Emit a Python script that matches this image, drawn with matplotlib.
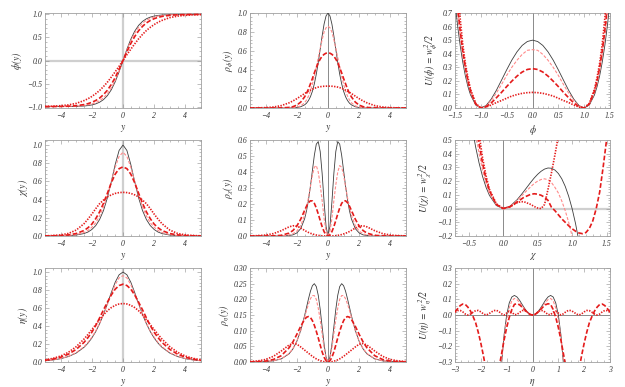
import matplotlib
matplotlib.use('Agg')
import matplotlib.pyplot as plt
from matplotlib.ticker import MultipleLocator, AutoMinorLocator, FuncFormatter

plt.rcParams['font.family'] = ['Liberation Serif', 'DejaVu Serif']
plt.rcParams['font.style'] = 'italic'
plt.rcParams['mathtext.fontset'] = 'stix'
plt.rcParams['lines.scale_dashes'] = False

# ---- sample grids ----
Y_COARSE = [-5, -4.5, -4, -3.5, -3, -2.5, -2.25, -2, -1.75, -1.5, -1.25, -1, -0.75, -0.5, -0.25, 0,
            0.25, 0.5, 0.75, 1, 1.25, 1.5, 1.75, 2, 2.25, 2.5, 3, 3.5, 4, 4.5, 5]
Y_FINE = [-5, -4.5, -4, -3.5, -3, -2.5, -2.25, -2, -1.75, -1.5, -1.375, -1.25, -1.125, -1, -0.875, -0.75,
          -0.625, -0.5, -0.375, -0.25, -0.125, 0, 0.125, 0.25, 0.375, 0.5, 0.625, 0.75, 0.875, 1, 1.125,
          1.25, 1.375, 1.5, 1.75, 2, 2.25, 2.5, 3, 3.5, 4, 4.5, 5]
X_PHI = [-1.5, -1.45, -1.4, -1.35, -1.3, -1.25, -1.2, -1.1, -1.0, -0.9, -0.8, -0.7, -0.6, -0.5, -0.4, -0.3,
         -0.2, -0.1, 0.0, 0.1, 0.2, 0.3, 0.4, 0.5, 0.6, 0.7, 0.8, 0.9, 1.0, 1.1, 1.2, 1.25, 1.3, 1.35, 1.4,
         1.45, 1.5]
X_CHI = [-0.7, -0.6, -0.5, -0.45, -0.4, -0.35, -0.3, -0.25, -0.2, -0.1, 0.0, 0.1, 0.2, 0.25, 0.3, 0.4, 0.45,
         0.5, 0.55, 0.6, 0.65, 0.7, 0.75, 0.8, 0.85, 0.9, 0.95, 1.0, 1.05, 1.1, 1.15, 1.2, 1.25, 1.3, 1.35,
         1.4, 1.45, 1.5, 1.55]
X_ETA = [-3.0, -2.9, -2.8, -2.7, -2.6, -2.5, -2.4, -2.3, -2.2, -2.1, -2.0, -1.9, -1.8, -1.7, -1.6, -1.5,
         -1.4, -1.3, -1.2, -1.1, -1.0, -0.9, -0.8, -0.7, -0.6, -0.5, -0.4, -0.3, -0.2, -0.1, 0.0,
         0.1, 0.2, 0.3, 0.4, 0.5, 0.6, 0.7, 0.8, 0.9, 1.0, 1.1, 1.2, 1.3, 1.4, 1.5,
         1.6, 1.7, 1.8, 1.9, 2.0, 2.1, 2.2, 2.3, 2.4, 2.5, 2.6, 2.7, 2.8, 2.9, 3.0]
X_ETA_IN = [-1.3, -1.2, -1.1, -1.0, -0.9, -0.8, -0.7, -0.6, -0.5, -0.4, -0.3, -0.2, -0.1, 0.0,
            0.1, 0.2, 0.3, 0.4, 0.5, 0.6, 0.7, 0.8, 0.9, 1.0, 1.1, 1.2, 1.3]

# ---- field profiles ----
phi_black = [-1.0, -1.0, -0.999, -0.998, -0.995, -0.987, -0.978, -0.964, -0.941, -0.905, -0.848, -0.762, -0.635,
             -0.462, -0.245, 0.0, 0.245, 0.462, 0.635, 0.762, 0.848, 0.905, 0.941, 0.964, 0.978, 0.987, 0.995,
             0.998, 0.999, 1.0, 1.0]
phi_pink = [-1.0, -0.999, -0.998, -0.996, -0.99, -0.976, -0.963, -0.944, -0.915, -0.872, -0.81, -0.72, -0.595,
            -0.43, -0.228, 0.0, 0.228, 0.43, 0.595, 0.72, 0.81, 0.872, 0.915, 0.944, 0.963, 0.976, 0.99, 0.996,
            0.998, 0.999, 1.0]
phi_dash = [-0.999, -0.998, -0.996, -0.991, -0.98, -0.956, -0.936, -0.907, -0.868, -0.815, -0.74, -0.645, -0.52,
            -0.37, -0.19, 0.0, 0.19, 0.37, 0.52, 0.645, 0.74, 0.815, 0.868, 0.907, 0.936, 0.956, 0.98, 0.991,
            0.996, 0.998, 0.999]
phi_dot = [-0.995, -0.99, -0.98, -0.963, -0.93, -0.87, -0.83, -0.78, -0.72, -0.65, -0.565, -0.47, -0.36, -0.245,
           -0.125, 0.0, 0.125, 0.245, 0.36, 0.47, 0.565, 0.65, 0.72, 0.78, 0.83, 0.87, 0.93, 0.963, 0.98, 0.99,
           0.995]

chi_black = [0.0002, 0.0005, 0.001, 0.004, 0.01, 0.027, 0.043, 0.071, 0.114, 0.181, 0.28, 0.42, 0.597, 0.786,
             0.94, 1.0, 0.94, 0.786, 0.597, 0.42, 0.28, 0.181, 0.114, 0.071, 0.043, 0.027, 0.01, 0.004, 0.001,
             0.0005, 0.0002]
chi_pink = [0.0, 0.001, 0.002, 0.006, 0.015, 0.038, 0.06, 0.095, 0.145, 0.22, 0.32, 0.45, 0.6, 0.755, 0.875,
            0.92, 0.875, 0.755, 0.6, 0.45, 0.32, 0.22, 0.145, 0.095, 0.06, 0.038, 0.015, 0.006, 0.002, 0.001, 0.0]
chi_dash = [0.001, 0.002, 0.005, 0.012, 0.027, 0.06, 0.09, 0.13, 0.19, 0.265, 0.36, 0.47, 0.585, 0.68, 0.74,
            0.76, 0.74, 0.68, 0.585, 0.47, 0.36, 0.265, 0.19, 0.13, 0.09, 0.06, 0.027, 0.012, 0.005, 0.002, 0.001]
chi_dot = [0.002, 0.005, 0.012, 0.028, 0.065, 0.135, 0.185, 0.24, 0.3, 0.355, 0.395, 0.43, 0.452, 0.468, 0.477,
           0.48, 0.477, 0.468, 0.452, 0.43, 0.395, 0.355, 0.3, 0.24, 0.185, 0.135, 0.065, 0.028, 0.012, 0.005,
           0.002]

eta_black = [0.0135, 0.0222, 0.0366, 0.0603, 0.0993, 0.1631, 0.2085, 0.2658, 0.3374, 0.4251, 0.5295, 0.6481,
             0.7724, 0.8868, 0.9695, 1.0, 0.9695, 0.8868, 0.7724, 0.6481, 0.5295, 0.4251, 0.3374, 0.2658,
             0.2085, 0.1631, 0.0993, 0.0603, 0.0366, 0.0222, 0.0135]
eta_pink = [0.014, 0.023, 0.039, 0.063, 0.104, 0.17, 0.217, 0.275, 0.345, 0.43, 0.53, 0.64, 0.755, 0.86, 0.935,
            0.96, 0.935, 0.86, 0.755, 0.64, 0.53, 0.43, 0.345, 0.275, 0.217, 0.17, 0.104, 0.063, 0.039, 0.023,
            0.014]
eta_dash = [0.019, 0.032, 0.053, 0.087, 0.14, 0.218, 0.27, 0.33, 0.405, 0.49, 0.58, 0.665, 0.745, 0.81, 0.85,
            0.865, 0.85, 0.81, 0.745, 0.665, 0.58, 0.49, 0.405, 0.33, 0.27, 0.218, 0.14, 0.087, 0.053, 0.032,
            0.019]
eta_dot = [0.024, 0.04, 0.066, 0.108, 0.17, 0.255, 0.305, 0.36, 0.415, 0.47, 0.525, 0.57, 0.605, 0.63, 0.645,
           0.65, 0.645, 0.63, 0.605, 0.57, 0.525, 0.47, 0.415, 0.36, 0.305, 0.255, 0.17, 0.108, 0.066, 0.04,
           0.024]

# ---- energy densities ----
rho_phi_black = [0, 0, 0, 0, 0, 0.001, 0.002, 0.005, 0.013, 0.033, 0.051, 0.079, 0.119, 0.176, 0.255, 0.356,
                 0.479, 0.619, 0.76, 0.884, 0.969, 1.0, 0.969, 0.884, 0.76, 0.619, 0.479, 0.356, 0.255, 0.176,
                 0.119, 0.079, 0.051, 0.033, 0.013, 0.005, 0.002, 0.001, 0, 0, 0, 0, 0]
rho_phi_pink = [0, 0, 0, 0, 0.0003, 0.002, 0.004, 0.009, 0.022, 0.055, 0.085, 0.125, 0.18, 0.25, 0.335, 0.43,
                0.53, 0.63, 0.72, 0.8, 0.845, 0.86, 0.845, 0.8, 0.72, 0.63, 0.53, 0.43, 0.335, 0.25, 0.18, 0.125,
                0.085, 0.055, 0.022, 0.009, 0.004, 0.002, 0.0003, 0, 0, 0, 0]
rho_phi_dash = [0, 0, 0, 0, 0.001, 0.006, 0.014, 0.03, 0.062, 0.117, 0.155, 0.2, 0.255, 0.31, 0.37, 0.425,
                0.475, 0.515, 0.545, 0.565, 0.577, 0.58, 0.577, 0.565, 0.545, 0.515, 0.475, 0.425, 0.37, 0.31,
                0.255, 0.2, 0.155, 0.117, 0.062, 0.03, 0.014, 0.006, 0.001, 0, 0, 0, 0]
rho_phi_dot = [0.0005, 0.0015, 0.004, 0.01, 0.025, 0.054, 0.074, 0.098, 0.125, 0.152, 0.165, 0.177, 0.188,
               0.198, 0.207, 0.214, 0.22, 0.224, 0.227, 0.229, 0.23, 0.23, 0.23, 0.229, 0.227, 0.224, 0.22,
               0.214, 0.207, 0.198, 0.188, 0.177, 0.165, 0.152, 0.125, 0.098, 0.074, 0.054, 0.025, 0.01, 0.004,
               0.0015, 0.0005]

rho_chi_black = [0, 0, 0, 0, 0, 0.003, 0.007, 0.019, 0.046, 0.107, 0.158, 0.226, 0.312, 0.409, 0.505, 0.574,
                 0.59, 0.528, 0.39, 0.212, 0.06, 0.0, 0.06, 0.212, 0.39, 0.528, 0.59, 0.574, 0.505, 0.409, 0.312,
                 0.226, 0.158, 0.107, 0.046, 0.019, 0.007, 0.003, 0, 0, 0, 0, 0]
rho_chi_pink = [0, 0, 0, 0, 0.001, 0.006, 0.014, 0.03, 0.065, 0.13, 0.18, 0.24, 0.31, 0.38, 0.43, 0.44, 0.4,
                0.32, 0.22, 0.11, 0.03, 0.0, 0.03, 0.11, 0.22, 0.32, 0.4, 0.44, 0.43, 0.38, 0.31, 0.24, 0.18,
                0.13, 0.065, 0.03, 0.014, 0.006, 0.001, 0, 0, 0, 0]
rho_chi_dash = [0, 0, 0, 0.001, 0.004, 0.018, 0.034, 0.062, 0.105, 0.16, 0.187, 0.208, 0.22, 0.219, 0.204,
                0.175, 0.138, 0.097, 0.058, 0.027, 0.007, 0.0, 0.007, 0.027, 0.058, 0.097, 0.138, 0.175, 0.204,
                0.219, 0.22, 0.208, 0.187, 0.16, 0.105, 0.062, 0.034, 0.018, 0.004, 0.001, 0, 0, 0]
rho_chi_dot = [0.001, 0.002, 0.006, 0.015, 0.033, 0.057, 0.064, 0.062, 0.05, 0.035, 0.028, 0.022, 0.017, 0.013,
               0.009, 0.006, 0.004, 0.002, 0.001, 0.0005, 0.0, 0.0, 0.0, 0.0005, 0.001, 0.002, 0.004, 0.006,
               0.009, 0.013, 0.017, 0.022, 0.028, 0.035, 0.05, 0.062, 0.064, 0.057, 0.033, 0.015, 0.006, 0.002,
               0.001]

rho_eta_black = [0.0002, 0.0005, 0.0013, 0.0036, 0.0098, 0.0259, 0.0416, 0.0657, 0.1009, 0.148, 0.1749, 0.2018,
                 0.226, 0.2436, 0.25, 0.2407, 0.213, 0.168, 0.1119, 0.0564, 0.0152, 0.0, 0.0152, 0.0564, 0.1119,
                 0.168, 0.213, 0.2407, 0.25, 0.2436, 0.226, 0.2018, 0.1749, 0.148, 0.1009, 0.0657, 0.0416,
                 0.0259, 0.0098, 0.0036, 0.0013, 0.0005, 0.0002]
rho_eta_pink = [0.0002, 0.0005, 0.0015, 0.004, 0.01, 0.027, 0.043, 0.066, 0.1, 0.143, 0.165, 0.185, 0.202, 0.212,
                0.212, 0.2, 0.172, 0.135, 0.09, 0.045, 0.012, 0.0, 0.012, 0.045, 0.09, 0.135, 0.172, 0.2, 0.212,
                0.212, 0.202, 0.185, 0.165, 0.143, 0.1, 0.066, 0.043, 0.027, 0.01, 0.004, 0.0015, 0.0005, 0.0002]
rho_eta_dash = [0.0004, 0.001, 0.003, 0.008, 0.02, 0.045, 0.064, 0.088, 0.114, 0.136, 0.143, 0.145, 0.142, 0.132,
                0.117, 0.098, 0.077, 0.054, 0.032, 0.015, 0.004, 0.0, 0.004, 0.015, 0.032, 0.054, 0.077, 0.098,
                0.117, 0.132, 0.142, 0.145, 0.143, 0.136, 0.114, 0.088, 0.064, 0.045, 0.02, 0.008, 0.003, 0.001,
                0.0004]
rho_eta_dot = [0.0015, 0.0035, 0.008, 0.018, 0.035, 0.054, 0.059, 0.057, 0.048, 0.038, 0.033, 0.028, 0.023,
               0.018, 0.014, 0.01, 0.007, 0.0045, 0.0025, 0.001, 0.0003, 0.0, 0.0003, 0.001, 0.0025, 0.0045,
               0.007, 0.01, 0.014, 0.018, 0.023, 0.028, 0.033, 0.038, 0.048, 0.057, 0.059, 0.054, 0.035, 0.018,
               0.008, 0.0035, 0.0015]

# ---- potentials ----
U_phi_black = [0.781, 0.608, 0.461, 0.338, 0.238, 0.158, 0.097, 0.022, 0.0, 0.018, 0.065, 0.13, 0.205, 0.281,
               0.353, 0.414, 0.461, 0.49, 0.5, 0.49, 0.461, 0.414, 0.353, 0.281, 0.205, 0.13, 0.065, 0.018, 0.0,
               0.022, 0.097, 0.158, 0.238, 0.338, 0.461, 0.608, 0.781]
U_phi_pink = [0.9, 0.7, 0.53, 0.39, 0.275, 0.185, 0.115, 0.028, 0.0, 0.015, 0.055, 0.11, 0.173, 0.24, 0.3, 0.352,
              0.395, 0.425, 0.43, 0.425, 0.395, 0.352, 0.3, 0.24, 0.173, 0.11, 0.055, 0.015, 0.0, 0.028, 0.115,
              0.185, 0.275, 0.39, 0.53, 0.7, 0.9]
U_phi_dash = [0.95, 0.75, 0.57, 0.42, 0.3, 0.2, 0.125, 0.03, 0.0, 0.01, 0.037, 0.075, 0.115, 0.158, 0.198, 0.235,
              0.265, 0.284, 0.29, 0.284, 0.265, 0.235, 0.198, 0.158, 0.115, 0.075, 0.037, 0.01, 0.0, 0.03, 0.125,
              0.2, 0.3, 0.42, 0.57, 0.75, 0.95]
U_phi_dot = [1.2, 0.9, 0.66, 0.47, 0.33, 0.225, 0.14, 0.035, 0.0, 0.006, 0.022, 0.04, 0.055, 0.072, 0.088, 0.099,
             0.108, 0.113, 0.115, 0.113, 0.108, 0.099, 0.088, 0.072, 0.055, 0.04, 0.022, 0.006, 0.0, 0.035, 0.14,
             0.225, 0.33, 0.47, 0.66, 0.9, 1.2]

U_chi_black = [1.666, 1.152, 0.75, 0.587, 0.448, 0.331, 0.234, 0.156, 0.096, 0.022, 0.0, 0.018, 0.064, 0.094,
               0.126, 0.192, 0.223, 0.25, 0.272, 0.288, 0.296, 0.294, 0.281, 0.256, 0.217, 0.162, 0.09, 0.0,
               -0.11, -0.242, -0.397, -0.576, -0.781, -1.014, -1.276, -1.568, -1.892, -2.25, -2.643]
U_chi_pink = [2.0, 1.4, 0.9, 0.7, 0.55, 0.4, 0.28, 0.185, 0.11, 0.027, 0.0, 0.016, 0.058, 0.083, 0.11, 0.16,
              0.183, 0.2, 0.212, 0.217, 0.21, 0.19, 0.155, 0.114, 0.055, -0.015, -0.1, -0.2, -0.32, -0.45, -0.6,
              -0.8, -1.0, -1.2, -1.4, -1.6, -1.8, -2.0, -2.2]
U_chi_dash = [2.5, 1.7, 1.1, 0.85, 0.64, 0.47, 0.33, 0.215, 0.13, 0.03, 0.0, 0.013, 0.047, 0.065, 0.082, 0.104,
              0.108, 0.105, 0.097, 0.083, 0.06, 0.01, -0.015, -0.045, -0.075, -0.1, -0.125, -0.147, -0.165,
              -0.178, -0.183, -0.175, -0.145, -0.09, 0.0, 0.12, 0.3, 0.5, 0.75]
U_chi_dot = [3.0, 2.0, 1.3, 1.0, 0.75, 0.54, 0.37, 0.24, 0.14, 0.035, 0.0, 0.014, 0.042, 0.05, 0.05, 0.03, 0.015,
             0.004, 0.0, 0.03, 0.14, 0.26, 0.39, 0.53, 0.7, 0.9, 1.1, 1.3, 1.5, 1.7, 1.9, 2.1, 2.3, 2.5, 2.7,
             2.9, 3.1, 3.3, 3.5]

U_eta_black = [-0.575, -0.317, -0.127, 0.0, 0.077, 0.115, 0.125, 0.115, 0.094, 0.067, 0.041, 0.019, 0.005, 0.0,
               0.005, 0.019, 0.041, 0.067, 0.094, 0.115, 0.125, 0.115, 0.077, 0.0, -0.127, -0.317, -0.575]
U_eta_pink = [-0.5, -0.3, -0.14, -0.03, 0.045, 0.09, 0.106, 0.098, 0.08, 0.058, 0.035, 0.016, 0.004, 0.0,
              0.004, 0.016, 0.035, 0.058, 0.08, 0.098, 0.106, 0.09, 0.045, -0.03, -0.14, -0.3, -0.5]
U_eta_dash = [0.02, 0.04, 0.06, 0.07, 0.067, 0.05, 0.025, -0.01, -0.05, -0.11, -0.18, -0.26, -0.35, -0.44, -0.48,
              -0.47, -0.42, -0.34, -0.25, -0.16, -0.08, -0.015, 0.035, 0.068, 0.072, 0.065, 0.05, 0.033, 0.016,
              0.004, 0.0, 0.004, 0.016, 0.033, 0.05, 0.065, 0.072, 0.068, 0.035, -0.015, -0.08, -0.16, -0.25,
              -0.34, -0.42, -0.47, -0.48, -0.44, -0.35, -0.26, -0.18, -0.11, -0.05, -0.01, 0.025, 0.05, 0.067,
              0.07, 0.06, 0.04, 0.02]
U_eta_dot = [0.018, 0.028, 0.029, 0.02, 0.006, 0.0, 0.006, 0.018, 0.028, 0.029, 0.02, 0.007, 0.0, 0.006, 0.018,
             0.028, 0.03, 0.022, 0.008, 0.0, 0.012, 0.025, 0.018, 0.002, 0.003, 0.017, 0.028, 0.029, 0.018, 0.004,
             0.0, 0.004, 0.018, 0.029, 0.028, 0.017, 0.003, 0.002, 0.018, 0.025, 0.012, 0.0, 0.008, 0.022, 0.03,
             0.028, 0.018, 0.006, 0.0, 0.007, 0.02, 0.029, 0.028, 0.018, 0.006, 0.0, 0.006, 0.02, 0.029, 0.028,
             0.018]

# black, light dashed, heavy dashed, dotted
STYLES = [
    dict(color='#3c3c3c', lw=0.6, ls='-'),
    dict(color='#ff8a8a', lw=0.8, ls=(0, (2.2, 1.2))),
    dict(color='#e41b1b', lw=1.2, ls=(0, (3.4, 1.6))),
    dict(color='#e41b1b', lw=1.2, ls=(0, (1.0, 1.0))),
]
LIGHT = dict(color='#cfcfcf', lw=1.6)
DARK = dict(color='#8a8a8a', lw=0.7)

COLS = [45, 250, 455]
ROWS = [(13, 108), (140, 236), (268, 362)]
W, H = 625, 387


def minus(fmt):
    return FuncFormatter(lambda v, p: (fmt % v).replace('-', '\u2212'))


def format_panel(ax, xlim, ylim, xmaj, ymaj, xfmt, yfmt, xlabel, ylabel, vline=None, hline=None):
    ax.set_xlim(*xlim)
    ax.set_ylim(*ylim)
    ax.xaxis.set_major_locator(MultipleLocator(xmaj))
    ax.yaxis.set_major_locator(MultipleLocator(ymaj))
    ax.xaxis.set_minor_locator(AutoMinorLocator(4 if xmaj in (1, 2) else 5))
    ax.yaxis.set_minor_locator(AutoMinorLocator(5))
    ax.xaxis.set_major_formatter(minus(xfmt))
    ax.yaxis.set_major_formatter(minus(yfmt))
    ax.tick_params(which='both', direction='in', top=True, right=True, color='#8c8c8c', width=0.4,
                   labelsize=5.6, labelcolor='#333333')
    ax.tick_params(axis='x', pad=3.2)
    ax.tick_params(axis='y', pad=2)
    ax.tick_params(which='major', length=2.6)
    ax.tick_params(which='minor', length=1.3)
    for s in ax.spines.values():
        s.set_color('#a0a0a0')
        s.set_linewidth(0.6)
    if vline is not None:
        ax.axvline(0, zorder=1, **vline)
    if hline is not None:
        ax.axhline(0, zorder=1, **hline)
    ax.set_xlabel(xlabel, fontsize=7, color='#333333', labelpad=1.5)
    ax.set_ylabel(ylabel, fontsize=7, color='#333333', labelpad=2)


def draw(ax, xs, curves):
    for x, y, st in zip(xs, curves, STYLES):
        ax.plot(x, y, color=st['color'], lw=st['lw'], linestyle=st['ls'], zorder=3)


fig = plt.figure(figsize=(W / 100, H / 100), dpi=100)


def make_axes(r, c):
    top, bottom = ROWS[r]
    width = 155 if c == 2 else 156
    return fig.add_axes([COLS[c] / W, 1 - bottom / H, width / W, (bottom - top) / H])


# row 1 : phi
ax = make_axes(0, 0)
draw(ax, [Y_COARSE] * 4, [phi_black, phi_pink, phi_dash, phi_dot])
format_panel(ax, (-5, 5), (-1.03, 1.03), 2, 0.5, '%d', '%.1f', r'$y$', r'$\phi(y)$', LIGHT, LIGHT)

ax = make_axes(0, 1)
draw(ax, [Y_FINE] * 4, [rho_phi_black, rho_phi_pink, rho_phi_dash, rho_phi_dot])
format_panel(ax, (-5, 5), (0, 1.0), 2, 0.2, '%d', '%.1f', r'$y$', r'$\rho_{\phi}(y)$', DARK)

ax = make_axes(0, 2)
draw(ax, [X_PHI] * 4, [U_phi_black, U_phi_pink, U_phi_dash, U_phi_dot])
format_panel(ax, (-1.5, 1.5), (0, 0.7), 0.5, 0.1, '%.1f', '%.1f', r'$\phi$',
             r'$U(\phi)\,=\,w_{\phi}^{2}/2$', DARK)

# row 2 : chi
ax = make_axes(1, 0)
draw(ax, [Y_COARSE] * 4, [chi_black, chi_pink, chi_dash, chi_dot])
format_panel(ax, (-5, 5), (0, 1.055), 2, 0.2, '%d', '%.1f', r'$y$', r'$\chi(y)$', LIGHT)

ax = make_axes(1, 1)
draw(ax, [Y_FINE] * 4, [rho_chi_black, rho_chi_pink, rho_chi_dash, rho_chi_dot])
format_panel(ax, (-5, 5), (0, 0.6), 2, 0.1, '%d', '%.1f', r'$y$', r'$\rho_{\chi}(y)$', DARK)

ax = make_axes(1, 2)
draw(ax, [X_CHI] * 4, [U_chi_black, U_chi_pink, U_chi_dash, U_chi_dot])
format_panel(ax, (-0.7, 1.55), (-0.2, 0.5), 0.5, 0.1, '%.1f', '%.1f', r'$\chi$',
             r'$U(\chi)\,=\,w_{\chi}^{2}/2$', DARK, LIGHT)

# row 3 : eta
ax = make_axes(2, 0)
draw(ax, [Y_COARSE] * 4, [eta_black, eta_pink, eta_dash, eta_dot])
format_panel(ax, (-5, 5), (0, 1.045), 2, 0.2, '%d', '%.1f', r'$y$', r'$\eta(y)$', LIGHT)

ax = make_axes(2, 1)
draw(ax, [Y_FINE] * 4, [rho_eta_black, rho_eta_pink, rho_eta_dash, rho_eta_dot])
format_panel(ax, (-5, 5), (0, 0.3), 2, 0.05, '%d', '%.2f', r'$y$', r'$\rho_{\eta}(y)$', DARK)

ax = make_axes(2, 2)
draw(ax, [X_ETA_IN, X_ETA_IN, X_ETA, X_ETA], [U_eta_black, U_eta_pink, U_eta_dash, U_eta_dot])
format_panel(ax, (-3, 3), (-0.3, 0.3), 1, 0.1, '%d', '%.1f', r'$\eta$',
             r'$U(\eta)\,=\,w_{\eta}^{2}/2$', DARK, DARK)

fig.savefig('out.png', dpi=100, facecolor='white')
